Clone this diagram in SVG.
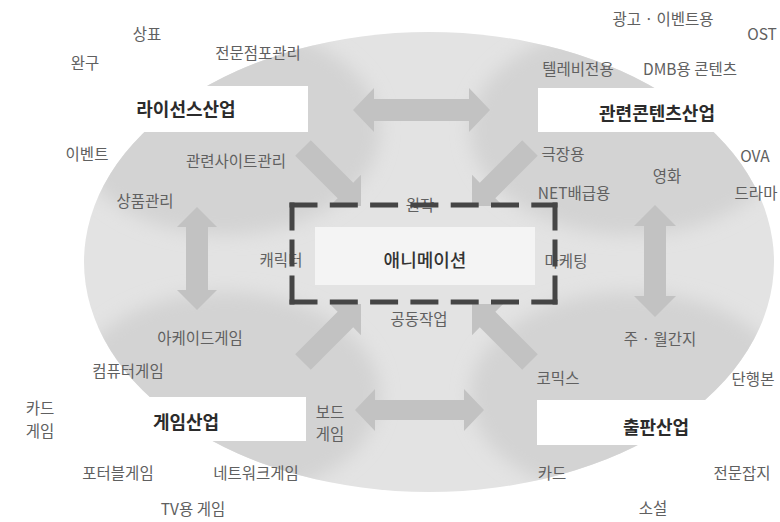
<svg xmlns="http://www.w3.org/2000/svg" width="780" height="522" viewBox="0 0 780 522">
  <defs>
    <style>
      .t { font-family: "Noto Sans CJK KR", "Noto Sans", "Liberation Sans", sans-serif; font-size: 15.5px; fill: #606060; text-anchor: middle; dominant-baseline: central; }
      .h { font-family: "Noto Sans CJK KR", "Noto Sans", "Liberation Sans", sans-serif; font-size: 18px; font-weight: 700; fill: #2b2b2b; text-anchor: middle; dominant-baseline: central; }
      .c { font-family: "Noto Sans CJK KR", "Noto Sans", "Liberation Sans", sans-serif; font-size: 18px; font-weight: 500; fill: #333333; text-anchor: middle; dominant-baseline: central; }
      .arr { fill: #c2c2c2; }
      .box { fill: #ffffff; }
      .quad { fill: #d3d3d3; }
      .dash { stroke: #454545; stroke-width: 5; fill: none; }
    </style>
    <clipPath id="blobClip">
      <ellipse cx="429" cy="262" rx="345" ry="230"/>
    </clipPath>
    <filter id="soft" x="-20%" y="-20%" width="140%" height="140%">
      <feGaussianBlur stdDeviation="9"/>
    </filter>
    <polygon id="diag" points="0,-11 60,-11 60,-22 82,0 60,22 60,11 0,11"/>
  </defs>

  <rect width="780" height="522" fill="#ffffff"/>

  <g id="background">
    <ellipse cx="429" cy="262" rx="345" ry="230" fill="#e3e3e3"/>
    <g clip-path="url(#blobClip)">
      <g filter="url(#soft)">
        <ellipse class="quad" cx="225" cy="130" rx="155" ry="105"/>
        <ellipse class="quad" cx="630" cy="130" rx="160" ry="105"/>
        <ellipse class="quad" cx="225" cy="395" rx="155" ry="103"/>
        <ellipse class="quad" cx="630" cy="395" rx="160" ry="103"/>
      </g>
    </g>
  </g>

  <g id="connectors">
    <polygon class="arr" points="353,110 374,88 374,99 469,99 469,88 490,110 469,132 469,121 374,121 374,132"/>
    <polygon class="arr" points="355,410 375,389 375,400 464,400 464,389 484,410 464,431 464,420 375,420 375,431"/>
    <polygon class="arr" points="197,207 217,227 208,227 208,290 217,290 197,310 177,290 186,290 186,227 177,227"/>
    <polygon class="arr" points="655,205 676,226 666,226 666,296 676,296 655,317 634,296 644,296 644,226 634,226"/>
    <use href="#diag" class="arr" transform="translate(303,148) rotate(45)"/>
    <use href="#diag" class="arr" transform="translate(530,148) rotate(135)"/>
    <use href="#diag" class="arr" transform="translate(303,362) rotate(-45)"/>
    <use href="#diag" class="arr" transform="translate(530,362) rotate(-135)"/>
  </g>

  <g id="license">
    <rect class="box" x="0" y="86" width="308" height="46"/>
    <text class="h" x="186" y="108">라이선스산업</text>
    <text class="t" x="147" y="33">상표</text>
    <text class="t" x="85" y="62">완구</text>
    <text class="t" x="258" y="52">전문점포관리</text>
    <text class="t" x="87" y="153">이벤트</text>
    <text class="t" x="236" y="160">관련사이트관리</text>
    <text class="t" x="145" y="200">상품관리</text>
  </g>

  <g id="content">
    <rect class="box" x="538" y="88" width="242" height="44"/>
    <text class="h" x="657" y="112">관련콘텐츠산업</text>
    <text class="t" x="663" y="18">광고 · 이벤트용</text>
    <text class="t" x="762" y="33">OST</text>
    <text class="t" x="578" y="68">텔레비전용</text>
    <text class="t" x="690" y="68">DMB용 콘텐츠</text>
    <text class="t" x="563" y="153">극장용</text>
    <text class="t" x="755" y="155">OVA</text>
    <text class="t" x="667" y="175">영화</text>
    <text class="t" x="574" y="192">NET배급용</text>
    <text class="t" x="756" y="192">드라마</text>
  </g>

  <g id="game">
    <rect class="box" x="0" y="397" width="306" height="44"/>
    <text class="h" x="186" y="421">게임산업</text>
    <text class="t" x="200" y="337">아케이드게임</text>
    <text class="t" x="128" y="370">컴퓨터게임</text>
    <text class="t" x="40" y="407">카드</text>
    <text class="t" x="40" y="430">게임</text>
    <text class="t" x="330" y="411">보드</text>
    <text class="t" x="330" y="433">게임</text>
    <text class="t" x="118" y="472">포터블게임</text>
    <text class="t" x="256" y="472">네트워크게임</text>
    <text class="t" x="193" y="508">TV용 게임</text>
  </g>

  <g id="publishing">
    <rect class="box" x="537" y="400" width="243" height="45"/>
    <text class="h" x="656" y="426">출판산업</text>
    <text class="t" x="660" y="338">주 · 월간지</text>
    <text class="t" x="558" y="377">코믹스</text>
    <text class="t" x="753" y="378">단행본</text>
    <text class="t" x="552" y="472">카드</text>
    <text class="t" x="742" y="472">전문잡지</text>
    <text class="t" x="653" y="507">소설</text>
  </g>

  <g id="animation">
    <rect x="315" y="227" width="220" height="58" fill="#f4f4f4"/>
    <text class="c" x="425" y="259">애니메이션</text>
    <text class="t" x="281" y="259">캐릭터</text>
    <text class="t" x="420" y="204">원작</text>
    <text class="t" x="566" y="260">마케팅</text>
    <text class="t" x="419" y="318">공동작업</text>
    <g class="dash">
      <line x1="289.5" y1="205" x2="557.5" y2="205" stroke-dasharray="28 12.3"/>
      <line x1="289.5" y1="302" x2="557.5" y2="302" stroke-dasharray="28 12.3"/>
      <line x1="292" y1="202.5" x2="292" y2="304.5" stroke-dasharray="28 9 27 9 29"/>
      <line x1="555" y1="202.5" x2="555" y2="304.5" stroke-dasharray="28 9 27 9 29"/>
    </g>
  </g>
</svg>
